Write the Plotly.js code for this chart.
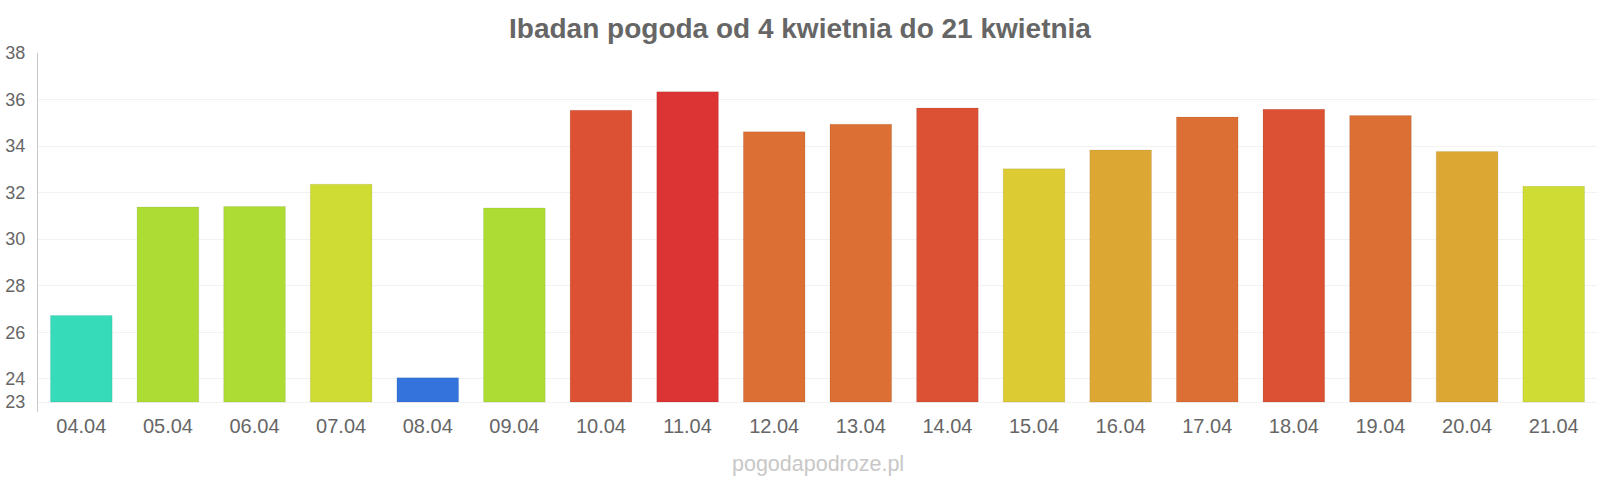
<!DOCTYPE html>
<html>
<head>
<meta charset="utf-8">
<script src="https://cdn.plot.ly/plotly-3.0.1.min.js"></script>
<style>
html,body{margin:0;padding:0;background:#fff;}
#chart{width:1600px;height:480px;}
</style>
</head>
<body>
<div id="chart"></div>
<script>
const categories = ["04.04","05.04","06.04","07.04","08.04","09.04","10.04","11.04","12.04","13.04","14.04","15.04","16.04","17.04","18.04","19.04","20.04","21.04"];
const temperatures = [26.72,31.38,31.40,32.36,24.04,31.34,35.54,36.33,34.62,34.94,35.64,33.02,33.83,35.25,35.58,35.31,33.77,32.27];
const barColors = ["#36dcb9","#addd33","#addd33","#cfdc33","#3273dc","#addd33","#dc5033","#dc3434","#dc6f33","#dc6f33","#dc5033","#dccb33","#dca833","#dc6f33","#dc5033","#dc6f33","#dca833","#cfdc33"];
const yTicks = [23,24,26,28,30,32,34,36,38];
const titleText = "Ibadan pogoda od 4 kwietnia do 21 kwietnia";
const watermark = "pogodapodroze.pl";
const axisMin = 23;

const trace = {
  type: "bar",
  x: categories,
  y: temperatures.map(v => v - axisMin),
  base: axisMin,
  marker: {color: barColors, line: {color: "rgba(0,0,0,0.08)", width: 1}},
  hovertemplate: "%{x}: %{customdata}<extra></extra>",
  customdata: temperatures
};

const layout = {
  width: 1600, height: 480,
  margin: {l: 38.4, r: 3, t: 53, b: 68, pad: 0},
  paper_bgcolor: "#fff", plot_bgcolor: "#fff",
  font: {family: "Liberation Sans, Arial, sans-serif", color: "#666"},
  title: {text: "<b>" + titleText + "</b>", x: 0.5, xanchor: "center", xref: "container",
          y: 1 - 28/480, yanchor: "middle", yref: "container",
          font: {size: 28, color: "#666", family: "Liberation Sans, Arial, sans-serif"}},
  bargap: 0.288,
  showlegend: false,
  xaxis: {type: "category", showgrid: false, showline: false, zeroline: false, ticks: "",
          tickfont: {size: 20, color: "#666"}, ticklabelstandoff: 0, fixedrange: true},
  yaxis: {range: [22.57, 38], tickvals: yTicks, ticktext: yTicks.map(String),
          showgrid: true, gridcolor: "#f2f2f2", gridwidth: 1, zeroline: false,
          showline: true, linecolor: "#c8c8c8", linewidth: 1, ticks: "",
          tickfont: {size: 18, color: "#666"}, ticklabelstandoff: 8, fixedrange: true},
  annotations: [{text: watermark, xref: "paper", yref: "paper", x: 0.5, y: -52/359,
                 xanchor: "center", yanchor: "middle", showarrow: false,
                 font: {size: 21.5, color: "#c8c8c8", family: "Liberation Sans, Arial, sans-serif"}}]
};

Plotly.newPlot("chart", [trace], layout, {displayModeBar: false, staticPlot: true});
</script>
</body>
</html>
